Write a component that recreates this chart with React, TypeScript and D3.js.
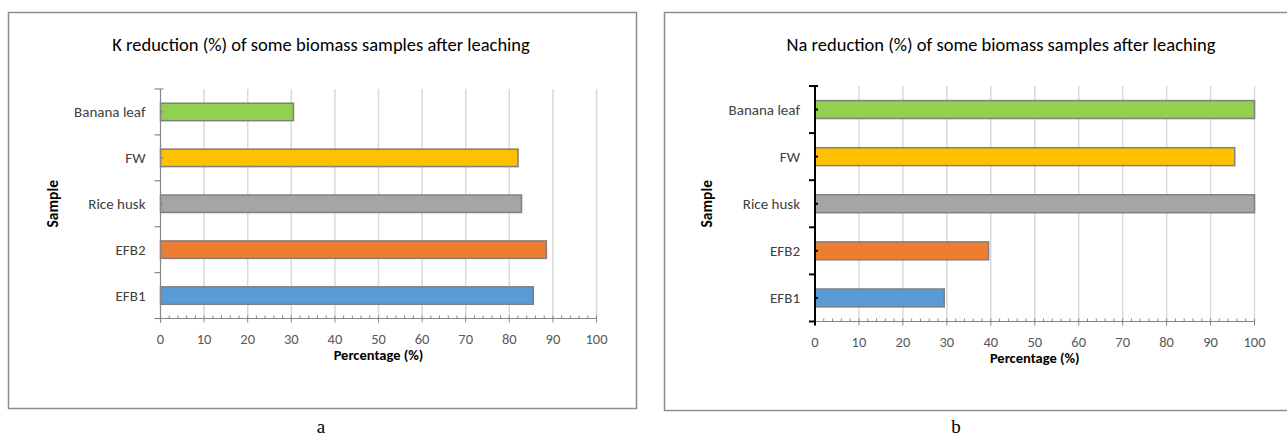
import React from "react";
import * as d3 from "d3";

// samples, bottom to top as drawn
const samples = ["EFB1", "EFB2", "Rice husk", "FW", "Banana leaf"];
const kReduction = [85.5, 88.5, 82.8, 82.0, 30.5];
const naReduction = [29.4, 39.5, 100, 95.5, 100];
const xTicks = [0, 10, 20, 30, 40, 50, 60, 70, 80, 90, 100];
const minorTicks = d3.range(0, 101, 2);

const barColors = ["#5B9BD5", "#ED7D31", "#A5A5A5", "#FFC000", "#92D050"];

const FONT = "Carlito, Calibri, Lato, sans-serif";

type Cfg = {
  title: string;
  values: number[];
  frame: [number, number, number, number];
  x0: number;
  x1: number;
  top: number;
  bottom: number;
  titleX: number;
  axisColor: string;
  axisWidth: number;
  caption: string;
  captionX: number;
  sampleX: number;
};

const charts: Cfg[] = [
  {
    title: "K reduction (%) of some biomass samples after leaching",
    values: kReduction,
    frame: [8.5, 12.5, 628, 396],
    x0: 160.5,
    x1: 596.5,
    top: 89,
    bottom: 318.5,
    titleX: 321,
    axisColor: "#868686",
    axisWidth: 1.2,
    caption: "a",
    captionX: 321,
    sampleX: 53,
  },
  {
    title: "Na reduction (%) of some biomass samples after leaching",
    values: naReduction,
    frame: [664.5, 12.5, 680, 398],
    x0: 815,
    x1: 1254.5,
    top: 86,
    bottom: 321.5,
    titleX: 1001,
    axisColor: "#000000",
    axisWidth: 2,
    caption: "b",
    captionX: 956,
    sampleX: 707,
  },
];

function BarChart({ cfg }: { cfg: Cfg }) {
  const x = d3.scaleLinear().domain([0, 100]).range([cfg.x0, cfg.x1]);
  const y = d3
    .scaleBand<string>()
    .domain([...samples].reverse())
    .range([cfg.top, cfg.bottom])
    .paddingInner(0.62)
    .paddingOuter(0.31);
  const step = y.step();
  const bounds = d3.range(samples.length + 1).map((i) => cfg.top + i * step);

  return (
    <g>
      <rect
        x={cfg.frame[0]}
        y={cfg.frame[1]}
        width={cfg.frame[2]}
        height={cfg.frame[3]}
        fill="#fff"
        stroke="#8c8c8c"
        strokeWidth={1.5}
      />
      <text
        x={cfg.titleX}
        y={51}
        textAnchor="middle"
        fontFamily={FONT}
        fontSize={18.5}
        fill="#000"
      >
        {cfg.title}
      </text>

      {/* gridlines */}
      {xTicks.slice(1).map((t) => (
        <line
          key={"g" + t}
          x1={x(t)}
          x2={x(t)}
          y1={cfg.top}
          y2={cfg.bottom}
          stroke="#d9d9d9"
          strokeWidth={1.5}
        />
      ))}

      {/* bars */}
      {samples.map((s, i) => (
        <rect
          key={s}
          x={x(0)}
          y={y(s)}
          width={x(cfg.values[i]) - x(0)}
          height={y.bandwidth()}
          fill={barColors[i]}
          stroke="#7f7f7f"
          strokeWidth={1.5}
        />
      ))}

      {/* x axis */}
      <line x1={x(0)} x2={x(100)} y1={cfg.bottom} y2={cfg.bottom} stroke="#868686" strokeWidth={1.2} />
      {minorTicks.map((t) => (
        <line key={"m" + t} x1={x(t)} x2={x(t)} y1={cfg.bottom} y2={cfg.bottom - 3} stroke="#868686" strokeWidth={1} />
      ))}
      {xTicks.map((t) => (
        <line key={"t" + t} x1={x(t)} x2={x(t)} y1={cfg.bottom} y2={cfg.bottom + 4} stroke="#868686" strokeWidth={1} />
      ))}
      {xTicks.map((t) => (
        <text
          key={"l" + t}
          x={x(t)}
          y={cfg.bottom + 25}
          textAnchor="middle"
          fontFamily={FONT}
          fontSize={14.5}
          fill="#595959"
        >
          {t}
        </text>
      ))}
      <text
        x={(cfg.x0 + cfg.x1) / 2}
        y={cfg.bottom + 41}
        textAnchor="middle"
        fontFamily={FONT}
        fontSize={14.5}
        fontWeight="bold"
        fill="#000"
      >
        Percentage (%)
      </text>

      {/* y axis */}
      <line
        x1={x(0)}
        x2={x(0)}
        y1={cfg.top}
        y2={cfg.bottom + 4}
        stroke={cfg.axisColor}
        strokeWidth={cfg.axisWidth}
      />
      {bounds.map((b, i) => (
        <line
          key={"b" + i}
          x1={x(0) - 6}
          x2={i === 0 ? x(0) + 3 : x(0)}
          y1={b}
          y2={b}
          stroke={cfg.axisColor}
          strokeWidth={cfg.axisWidth}
        />
      ))}
      {samples.map((s) => (
        <line
          key={"c" + s}
          x1={x(0)}
          x2={x(0) + 3}
          y1={y(s)! + y.bandwidth() / 2}
          y2={y(s)! + y.bandwidth() / 2}
          stroke={cfg.axisColor}
          strokeWidth={cfg.axisWidth}
        />
      ))}
      {samples.map((s) => (
        <text
          key={"n" + s}
          x={x(0) - 15}
          y={y(s)! + y.bandwidth() / 2}
          dy="0.35em"
          textAnchor="end"
          fontFamily={FONT}
          fontSize={15}
          fill="#404040"
        >
          {s}
        </text>
      ))}
      <text
        transform={`translate(${cfg.sampleX},${(cfg.top + cfg.bottom) / 2}) rotate(-90)`}
        textAnchor="middle"
        dy="0.35em"
        fontFamily={FONT}
        fontSize={15.5}
        fontWeight="bold"
        fill="#000"
      >
        Sample
      </text>

      <text
        x={cfg.captionX}
        y={433}
        textAnchor="middle"
        fontFamily="'Liberation Serif', 'Times New Roman', serif"
        fontSize={19}
        fill="#000"
      >
        {cfg.caption}
      </text>
    </g>
  );
}

export default function App() {
  return (
    <svg
      width={1287}
      height={439}
      style={{ position: "absolute", left: 0, top: 0, background: "#fff" }}
    >
      {charts.map((c) => (
        <BarChart key={c.caption} cfg={c} />
      ))}
    </svg>
  );
}
